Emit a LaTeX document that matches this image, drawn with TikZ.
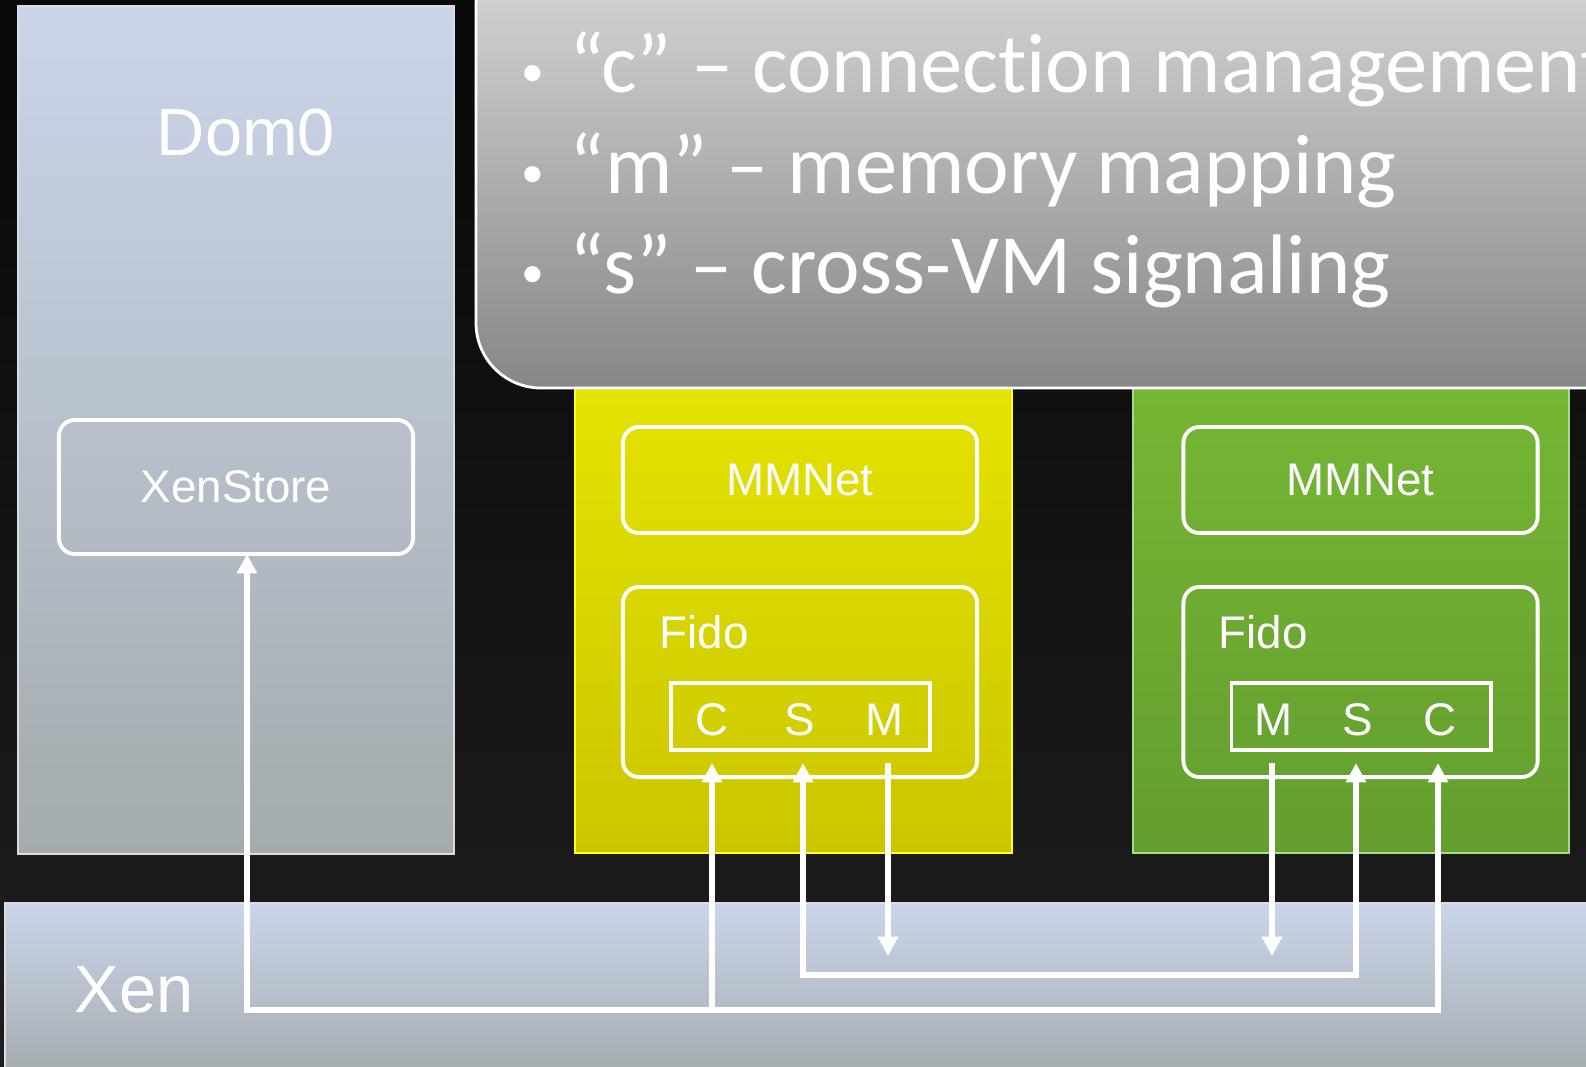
\documentclass[tikz,border=0pt]{standalone}
\usepackage{fontspec}
\setmainfont{Liberation Sans}
\newfontfamily\notesfont[Ligatures=NoCommon]{Carlito}
\usetikzlibrary{arrows.meta, calc, positioning}

\definecolor{bgtop}{HTML}{080808}
\definecolor{bgbot}{HTML}{1E1E1E}
\definecolor{domtop}{HTML}{CBD5EA}
\definecolor{dombot}{HTML}{A3ABAD}
\definecolor{domedge}{HTML}{DADDE3}
\definecolor{yeltop}{HTML}{E8E800}
\definecolor{yelbot}{HTML}{CBC600}
\definecolor{yeledge}{HTML}{FFFF20}
\definecolor{grntop}{HTML}{79BB36}
\definecolor{grnbot}{HTML}{639E2E}
\definecolor{grnedge}{HTML}{A5DC8C}
\definecolor{notetop}{HTML}{DADADA}
\definecolor{notebot}{HTML}{878787}

\newcommand{\notebullet}{\raisebox{1.6pt}{\fontsize{13}{13}\selectfont•}\hspace{0.3em}}

\tikzset{
  dombox/.style={draw=domedge, line width=0.8pt, top color=domtop, bottom color=dombot},
  vmyellow/.style={draw=yeledge, line width=0.8pt, top color=yeltop, bottom color=yelbot},
  vmgreen/.style={draw=grnedge, line width=0.8pt, top color=grntop, bottom color=grnbot},
  part/.style={draw=white, line width=1.1pt, rounded corners=1.6mm, text=white,
    font=\fontsize{13}{15}\selectfont, minimum width=3.54cm},
  portbox/.style={draw=white, line width=1.1pt, minimum width=2.59cm, minimum height=0.67cm},
  port/.style={text=white, font=\fontsize{13}{15}\selectfont, anchor=base, inner sep=0pt},
  bigtext/.style={text=white, font=\fontsize{19}{23}\selectfont, inner sep=0pt},
  notetext/.style={text=white, font=\notesfont\fontsize{24}{28}\selectfont, anchor=base west, inner sep=0pt},
  wire/.style={draw=white, line width=1.5pt},
}

\begin{document}
\begin{tikzpicture}[x=0.01cm, y=-0.01cm, >={Triangle[length=5.5pt,width=5.5pt]}]
    \useasboundingbox (0,0) rectangle (1586,1066);
    \shade[top color=bgtop, bottom color=bgbot] (0,0) rectangle (1586,1066);

    % Dom0 and Xen
    \shade[dombox] (18,6) rectangle (454,854);
    \node[bigtext] (dom0) at (246,132) {Dom0};
    \shade[dombox] (5,903) rectangle (1600,1080);
    \node[bigtext, anchor=base west] (xen) at (74,1012) {Xen};
    \node[part, minimum height=1.34cm] (xenstore) at (236,487) {XenStore};

    % Guest VMs
    \shade[vmyellow] (575,300) rectangle (1012,853);
    \shade[vmgreen] (1133,300) rectangle (1569,853);

    % Notes
    \shade[top color=notetop, bottom color=notebot, draw=white, line width=0.8pt,
        rounded corners=6.5mm] (476,-60) rectangle (1660,388);
    \node[notetext] (noteC) at (521,92) {\notebullet“c” – connection management};
    \node[notetext] (noteM) at (521,193) {\notebullet“m” – memory mapping};
    \node[notetext] (noteS) at (521,293) {\notebullet“s” – cross-VM signaling};

    % left VM
    \node[part, minimum height=1.06cm] (mmnetA) at (800,480) {MMNet};
    \node[part, minimum height=1.90cm] (fidoA) at (800,682) {};
    \node[port, anchor=base west] (fidoAtext) at (659,648) {Fido};
    \node[portbox] (portsA) at (800.5,716.5) {};
    \node[port] (cA) at (712,735) {C};
    \node[port] (sA) at (800,735) {S};
    \node[port] (mA) at (885,735) {M};

    % right VM
    \node[part, minimum height=1.06cm] (mmnetB) at (1360.5,480) {MMNet};
    \node[part, minimum height=1.90cm] (fidoB) at (1360.5,682) {};
    \node[port, anchor=base west] (fidoBtext) at (1218,648) {Fido};
    \node[portbox] (portsB) at (1361,716.5) {};
    \node[port] (mB) at (1274,735) {M};
    \node[port] (sB) at (1358,735) {S};
    \node[port] (cB) at (1440,735) {C};

    % wires through Xen
    \coordinate (xsin) at (247,554);
    \coordinate (cAin) at (712,763);
    \coordinate (sAin) at (803,763);
    \coordinate (mAout) at (888,763);
    \coordinate (mBout) at (1272,763);
    \coordinate (sBin) at (1356,763);
    \coordinate (cBin) at (1438,763);
    \coordinate (busS) at (0,975);
    \coordinate (busC) at (0,1010);
    \coordinate (mend) at (0,956);

    \draw[wire, <->] (xsin) -- (xsin |- busC) -| (cBin);
    \draw[wire, ->] (cAin |- busC) -- (cAin);
    \draw[wire, <->] (sAin) -- (sAin |- busS) -| (sBin);
    \draw[wire, ->] (mAout) -- (mAout |- mend);
    \draw[wire, ->] (mBout) -- (mBout |- mend);
\end{tikzpicture}
\end{document}
